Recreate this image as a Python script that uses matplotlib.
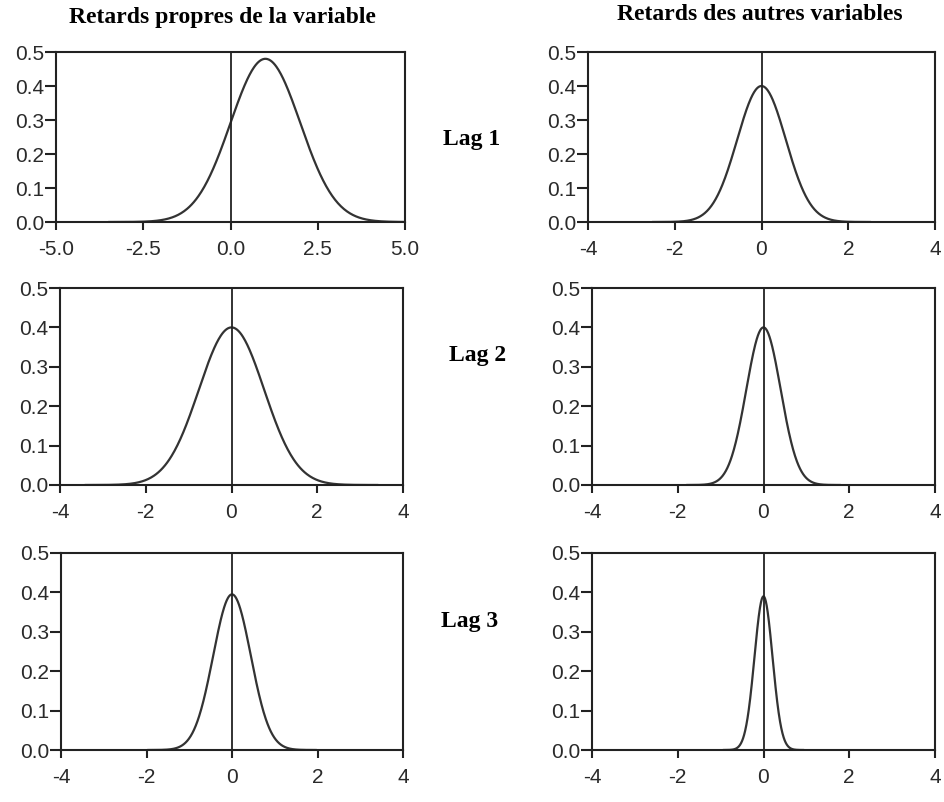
import numpy as np
import matplotlib
matplotlib.use("Agg")
import matplotlib.pyplot as plt
from matplotlib.ticker import FormatStrFormatter

# curve parameters (centre, spread, height of the bell)
# order: lag 1 own, lag 1 other, lag 2 own, lag 2 other, lag 3 own, lag 3 other
means = [1.0, 0.0, 0.0, 0.0, 0.0, 0.0]
sds = [1.0, 0.56, 0.76, 0.40, 0.44, 0.21]
peaks = [0.48, 0.40, 0.40, 0.40, 0.395, 0.39]

col_titles = ["Retards propres de la variable", "Retards des autres variables"]
row_labels = ["Lag 1", "Lag 2", "Lag 3"]
y_ticks = [0.0, 0.1, 0.2, 0.3, 0.4, 0.5]
x_ticks_first = [-5.0, -2.5, 0.0, 2.5, 5.0]
x_ticks_other = [-4, -2, 0, 2, 4]

W, H = 944, 802
fig = plt.figure(figsize=(W / 100, H / 100), dpi=100)

# axes boxes in pixels: left, top, right, bottom
boxes = [
    (56, 52, 405, 222), (588, 52, 935, 222),
    (60, 288, 403, 485), (592, 288, 935, 485),
    (61, 553, 403, 750), (592, 553, 935, 750),
]

for i in range(6):
    l, t, r, b = boxes[i]
    ax = fig.add_axes([l / W, 1 - b / H, (r - l) / W, (b - t) / H])
    if i == 0:
        xmin, xmax = -5, 5
        xt = x_ticks_first
        fmt = "%.1f"
    else:
        xmin, xmax = -4, 4
        xt = x_ticks_other
        fmt = "%d"
    lo = max(xmin, means[i] - 4.5 * sds[i])
    hi = min(xmax, means[i] + 4.5 * sds[i])
    x = np.linspace(lo, hi, 400)
    y = peaks[i] * np.exp(-0.5 * ((x - means[i]) / sds[i]) ** 2)
    ax.plot(x, y, color="#333333", lw=1.6, solid_capstyle="round")
    ax.axvline(0, color="#222222", lw=1.3)
    ax.set_xlim(xmin, xmax)
    ax.set_ylim(0, 0.5)
    ax.set_xticks(xt)
    ax.set_yticks(y_ticks)
    ax.xaxis.set_major_formatter(FormatStrFormatter(fmt))
    ax.yaxis.set_major_formatter(FormatStrFormatter("%.1f"))
    for s in ax.spines.values():
        s.set_linewidth(1.5)
        s.set_color("#222222")
    ax.tick_params(axis="x", direction="out", length=6, width=1.5, pad=7,
                   color="#222222", labelcolor="#2a2a2a")
    ax.tick_params(axis="y", direction="out", length=8, width=1.5, pad=0.5,
                   color="#222222", labelcolor="#2a2a2a")
    for lab in ax.get_xticklabels() + ax.get_yticklabels():
        lab.set_fontfamily("Liberation Sans")
        lab.set_fontsize(15)

title_font = {"family": "Liberation Serif", "weight": "bold", "size": 17}
fig.text(222 / W, 1 - 17 / H, col_titles[0], ha="center", va="center", **title_font)
fig.text(760 / W, 1 - 15 / H, col_titles[1], ha="center", va="center", **title_font)

row_pos = [(472, 139), (478, 355), (470, 622)]
for lab, (px, py) in zip(row_labels, row_pos):
    fig.text(px / W, 1 - py / H, lab, ha="center", va="center", **title_font)

fig.savefig("out.png", dpi=100)
